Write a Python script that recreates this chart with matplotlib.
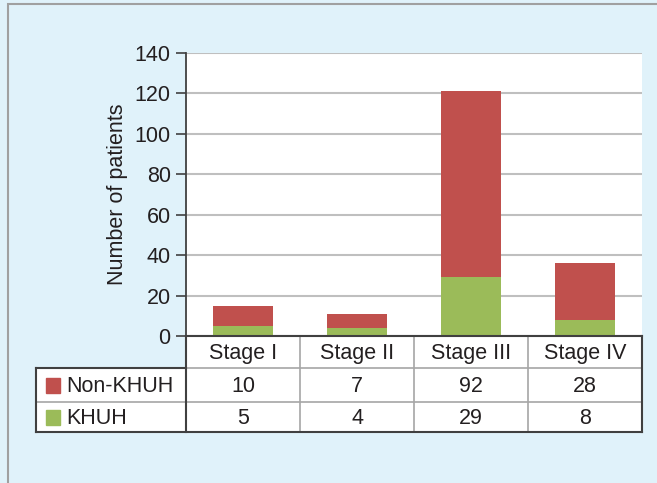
import matplotlib
matplotlib.use("Agg")
import matplotlib.pyplot as plt
from matplotlib.patches import Rectangle
from matplotlib.lines import Line2D

plt.rcParams['font.family'] = ['Liberation Sans', 'DejaVu Sans']

# Data
stages = ["Stage I", "Stage II", "Stage III", "Stage IV"]
series_names = ["Non-KHUH", "KHUH"]
non_khuh = [10, 7, 92, 28]
khuh = [5, 4, 29, 8]
y_ticks = [0, 20, 40, 60, 80, 100, 120, 140]

red = "#c0504d"
green = "#9bbb59"
text_col = "#231f20"
bg = "#e0f2fa"
fs = 15.5

W, H = 657, 483
fig = plt.figure(figsize=(W / 100, H / 100), dpi=100)
fig.patch.set_facecolor(bg)

# outer panel frame
fig.add_artist(Rectangle((8 / W, -0.1), 1.0, (H - 4) / H + 0.1, transform=fig.transFigure,
                         fill=False, edgecolor="#a0a0a0", linewidth=1.5))

# layout in pixels
ax_l, ax_r, ax_t, ax_b = 186, 642, 53, 336
tab_l, tab_b = 36, 432
row1, row2 = 368, 402

ax = fig.add_axes([ax_l / W, (H - ax_b) / H, (ax_r - ax_l) / W, (ax_b - ax_t) / H])
ax.set_facecolor("white")
x = list(range(len(stages)))
width = 0.52
ax.bar(x, khuh, width, color=green, edgecolor="none", zorder=3)
ax.bar(x, non_khuh, width, bottom=khuh, color=red, edgecolor="none", zorder=3)
ax.set_xlim(-0.5, len(stages) - 0.5)
ax.set_ylim(0, 140)
ax.set_yticks(y_ticks)
ax.set_yticklabels([str(v) for v in y_ticks], fontsize=fs, color=text_col)
ax.set_xticks([])
ax.yaxis.grid(True, color="#bfbfbf", linewidth=1.5, zorder=0)
for s in ["top", "right", "bottom"]:
    ax.spines[s].set_visible(False)
ax.spines["left"].set_color("#404040")
ax.spines["left"].set_linewidth(1.3)
ax.tick_params(axis="y", direction="out", length=7, width=1.2, color="#404040", pad=4)
ax.set_ylabel("Number of patients", fontsize=fs, color=text_col, labelpad=5)

# data table below the plot, sharing the category scale
col_w = (ax_r - ax_l) / len(stages)
left_x = -0.5 - (ax_l - tab_l) / col_w
right_x = len(stages) - 0.5
tax = fig.add_axes([tab_l / W, (H - tab_b) / H, (ax_r - tab_l) / W, (tab_b - ax_b) / H])
tax.set_xlim(left_x, right_x)
tax.set_ylim(tab_b, ax_b)
tax.axis("off")

# white cell backgrounds
tax.add_patch(Rectangle((-0.5, ax_b), len(stages), tab_b - ax_b, color="white", zorder=0))
tax.add_patch(Rectangle((left_x, row1), -0.5 - left_x, tab_b - row1, color="white", zorder=0))

dark = "#404040"
light = "#a6a6a6"
# inner lines
for i in range(1, len(stages)):
    tax.add_line(Line2D([i - 0.5, i - 0.5], [ax_b, tab_b], color=light, lw=1.2))
for yy in (row1, row2):
    tax.add_line(Line2D([-0.5, right_x], [yy, yy], color=light, lw=1.2))
tax.add_line(Line2D([left_x, -0.5], [row2, row2], color=light, lw=1.2))
# outer lines
tax.add_line(Line2D([-0.5, right_x], [ax_b, ax_b], color=dark, lw=1.5))
tax.add_line(Line2D([-0.5, -0.5], [ax_b, tab_b], color=dark, lw=1.5))
tax.add_line(Line2D([right_x] * 2, [ax_b, tab_b], color=dark, lw=1.5))
tax.add_line(Line2D([left_x, right_x], [tab_b, tab_b], color=dark, lw=1.5))
tax.add_line(Line2D([left_x, left_x], [row1, tab_b], color=dark, lw=1.5))
tax.add_line(Line2D([left_x, -0.5], [row1, row1], color=dark, lw=1.5))
for a in tax.lines:
    a.set_clip_on(False)

hdr_y = (ax_b + row1) / 2
r_ys = [(row1 + row2) / 2, (row2 + tab_b) / 2]
for i, s in enumerate(stages):
    tax.text(i, hdr_y + 1, s, ha="center", va="center", fontsize=fs, color=text_col)
for yy, name, vals, c in zip(r_ys, series_names, [non_khuh, khuh], [red, green]):
    sq = 14 / col_w
    tax.add_patch(Rectangle((left_x + 10 / col_w, yy - 7.5), sq, 15, color=c, clip_on=False))
    tax.text(left_x + 30 / col_w, yy + 1, name, ha="left", va="center", fontsize=fs, color=text_col)
    for i, v in enumerate(vals):
        tax.text(i, yy + 1, str(v), ha="center", va="center", fontsize=fs, color=text_col)

fig.savefig("out.png", dpi=100, facecolor=fig.get_facecolor())
